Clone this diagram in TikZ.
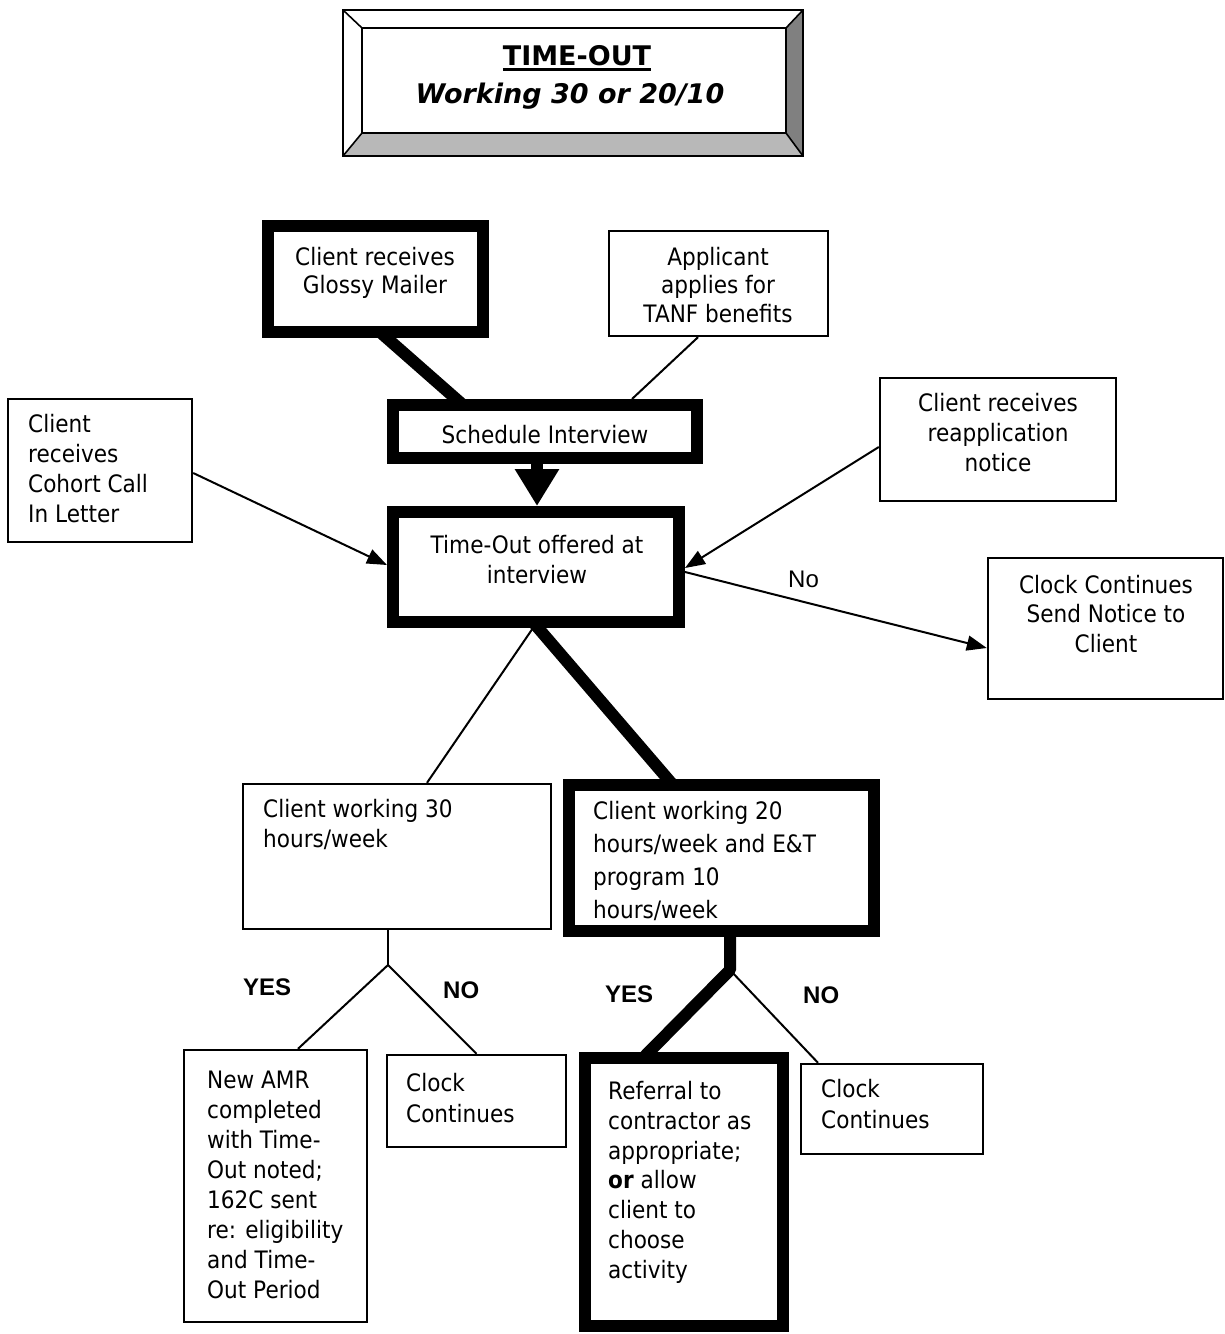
\documentclass[tikz,border=0pt]{standalone}
\usepackage{fontspec}
\setmainfont[FakeStretch=0.9]{DejaVu Sans}
\newfontfamily\titlefont{DejaVu Sans}
\newfontfamily\labelfont{Liberation Sans}
\usetikzlibrary{arrows.meta}

\begin{document}
\begin{tikzpicture}[x=1pt,y=-1pt,
  thinbox/.style={draw,line width=2.4pt,inner sep=0pt,fill=white},
  thickbox/.style={draw,line width=12pt,inner sep=0pt,fill=white},
  txt/.style={inner sep=0pt,font=\fontsize{24}{#1}\selectfont},
  txt/.default=30,
  thinline/.style={line width=2pt},
  thickline/.style={line width=12pt},
  thinarrow/.style={line width=2pt,-{Triangle[length=20pt,width=15pt]}},
  yesno/.style={inner sep=0pt,anchor=base west,font=\labelfont\fontsize{24}{28}\selectfont\bfseries},
]
\useasboundingbox (0,0) rectangle (1225,1334);
\fill[white] (0,0) rectangle (1225,1334);

% ---- bevelled title plate ----
\fill[black!50] (786,28) -- (803,10) -- (803,156) -- (786,133) -- cycle;
\fill[black!28] (362,133) -- (786,133) -- (803,156) -- (343,156) -- cycle;
\draw[line width=2.5pt,line join=miter] (343,10) rectangle (803,156);
\draw[line width=2.2pt] (362,28) rectangle (786,133);
\draw[line width=1.6pt] (343,10) -- (362,28) (803,10) -- (786,28)
  (343,156) -- (362,133) (803,156) -- (786,133);
\node[anchor=base,inner sep=0pt,font=\titlefont\fontsize{27}{32}\selectfont\bfseries]
  (title-a) at (577,65) {\vtop{\hbox{TIME-OUT}\kern3pt\hrule height 2.4pt}};
\node[anchor=base,inner sep=0pt,font=\titlefont\fontsize{27}{32}\selectfont\bfseries\itshape]
  (title-b) at (570,103) {Working 30 or 20/10};

% ---- boxes ----
\node[thickbox,minimum width=215pt,minimum height=106pt] (glossy) at (375.5,279) {};
\node[thinbox,minimum width=219pt,minimum height=105pt] (applicant) at (718.5,283.5) {};
\node[thickbox,minimum width=304pt,minimum height=53pt] (sched) at (545,431.5) {};
\node[thinbox,minimum width=184pt,minimum height=143pt] (cohort) at (100,470.5) {};
\node[thinbox,minimum width=236pt,minimum height=123pt] (reapp) at (998,439.5) {};
\node[thickbox,minimum width=286pt,minimum height=110pt] (timeout) at (536,567) {};
\node[thinbox,minimum width=235pt,minimum height=141pt] (notice) at (1105.5,628.5) {};
\node[thinbox,minimum width=308pt,minimum height=145pt] (work30) at (397,856.5) {};
\node[thickbox,minimum width=305pt,minimum height=146pt] (work20) at (721.5,858) {};
\node[thinbox,minimum width=183pt,minimum height=272pt] (amr) at (275.5,1186) {};
\node[thinbox,minimum width=179pt,minimum height=92pt] (clock1) at (476.5,1101) {};
\node[thickbox,minimum width=198pt,minimum height=268pt] (referral) at (684,1192) {};
\node[thinbox,minimum width=182pt,minimum height=90pt] (clock2) at (892,1109) {};

% ---- box texts (anchored on the baseline of their last line) ----
\node[txt=28.5,align=center,anchor=base] (glossy-t) at (375,293.5) {Client receives\\Glossy Mailer};
\node[txt=28.5,align=center,anchor=base] (applicant-t) at (718,322) {Applicant\\applies for\\TANF benefits};
\node[txt,align=center,anchor=base] (sched-t) at (545,443) {Schedule Interview};
\node[txt,align=left,anchor=base west] (cohort-t) at (28,522) {Client\\receives\\Cohort Call\\In Letter};
\node[txt,align=center,anchor=base] (reapp-t) at (998,471) {Client receives\\reapplication\\notice};
\node[txt,align=center,anchor=base] (timeout-t) at (537,583) {Time-Out offered at\\interview};
\node[txt=29.5,align=center,anchor=base] (notice-t) at (1106,652) {Clock Continues\\Send Notice to\\Client};
\node[txt,align=left,anchor=base west] (work30-t) at (263,847) {Client working 30\\hours/week};
\node[txt=32.7,align=left,anchor=base west] (work20-t) at (593,918) {Client working 20\\hours/week and E\&T\\program 10\\hours/week};
\node[txt,align=left,anchor=base west] (amr-t) at (207,1298) {New AMR\\completed\\with Time-\\Out noted;\\162C sent\\re: eligibility\\and Time-\\Out Period};
\node[txt=31,align=left,anchor=base west] (clock1-t) at (406,1122) {Clock\\Continues};
\node[txt=29.7,align=left,anchor=base west] (referral-t) at (608,1278) {Referral to\\contractor as\\appropriate;\\\textbf{or} allow\\client to\\choose\\activity};
\node[txt=31,align=left,anchor=base west] (clock2-t) at (821,1128) {Clock\\Continues};

% ---- decision labels ----
\node[yesno] (yes30) at (243,995) {YES};
\node[yesno] (no30) at (443,998) {NO};
\node[yesno] (yes20) at (605,1002) {YES};
\node[yesno] (no20) at (803,1003) {NO};
\node[inner sep=0pt,anchor=base west,font=\labelfont\fontsize{24}{28}\selectfont] (no-lbl) at (788,587) {No};

% ---- connectors ----
\draw[thickline] ([xshift=4.5pt,yshift=6pt]glossy.south) -- ([xshift=-82pt,yshift=-6pt]sched.north);
\draw[thinline] ([xshift=-20.5pt]applicant.south) -- ([xshift=87pt]sched.north);
\draw[line width=12pt,-{Triangle[length=37pt,width=42pt]}]
  ([xshift=-8pt,yshift=6pt]sched.south) -- ([xshift=1pt]timeout.north);
\draw[thinarrow] ([yshift=-2.5pt]cohort.east) -- ([yshift=2pt]timeout.west);
\draw[thinarrow] ([yshift=-7.5pt]reapp.west) -- ([yshift=-1pt]timeout.east);
\draw[thinarrow] ([yshift=-5pt]timeout.east) -- ([yshift=-19.5pt]notice.west);
\draw[thinline] ([xshift=-3pt]timeout.south) -- ([xshift=30pt]work30.north);
\draw[thickline] ([xshift=-3pt,yshift=6pt]timeout.south) -- ([xshift=-48.5pt,yshift=-6pt]work20.north);

\coordinate (j30) at (388,965);
\coordinate (j20) at (730,970);
\draw[thinline] ([xshift=-9pt]work30.south) -- (j30);
\draw[thinline] (j30) -- ([xshift=22.5pt]amr.north);
\draw[thinline] (j30) -- (clock1.north);
\draw[thickline,line join=round] ([xshift=8.5pt,yshift=6pt]work20.south) -- (j20)
  -- ([xshift=-41pt,yshift=-6pt]referral.north);
\draw[thinline] (j20) -- ([xshift=-74pt]clock2.north);
\end{tikzpicture}
\end{document}
